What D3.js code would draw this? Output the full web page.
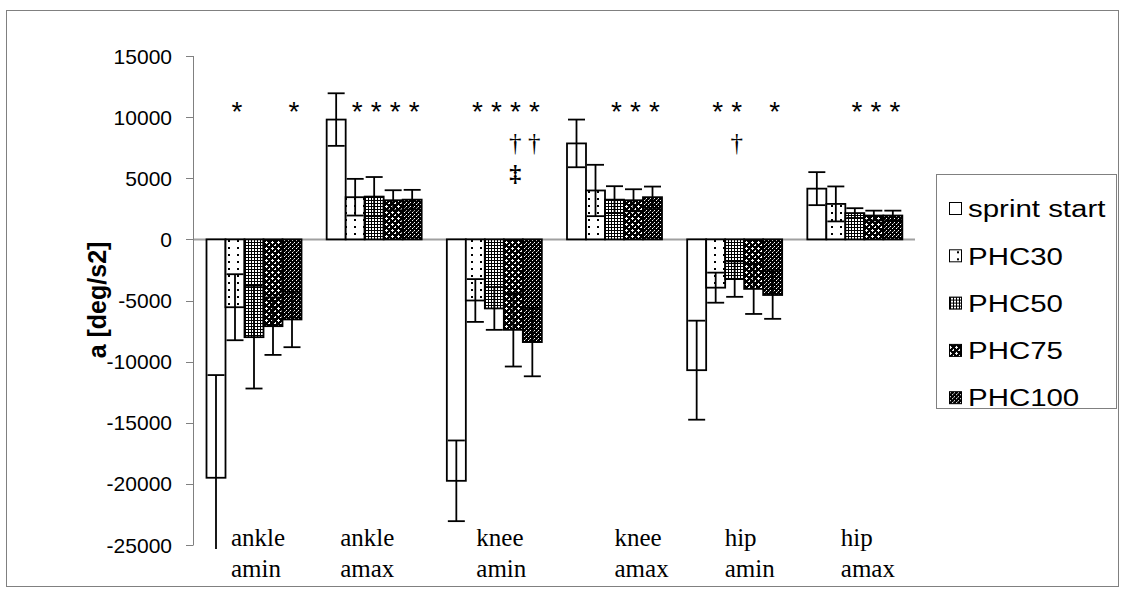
<!DOCTYPE html>
<html>
<head>
<meta charset="utf-8">
<script src="https://cdnjs.cloudflare.com/ajax/libs/d3/7.8.5/d3.min.js"></script>
<style>
body { margin: 0; background: #fff; }
svg { display: block; }
.sans { font-family: "Liberation Sans", Arial, sans-serif; }
.serif { font-family: "Liberation Serif", "Times New Roman", serif; }
</style>
</head>
<body>
<svg id="chart" width="1126" height="593"></svg>
<script>
// categories (two text lines each)
var CAT_KEYS = ["ankle amin", "ankle amax", "knee amin", "knee amax", "hip amin", "hip amax"];
var CAT_LINE1 = ["ankle", "ankle", "knee", "knee", "hip", "hip"];
var CAT_LINE2 = ["amin", "amax", "amin", "amax", "amin", "amax"];

var SERIES = ["sprint start", "PHC30", "PHC50", "PHC75", "PHC100"];

// means, one array per series, in category order
var SPRINT_START = [-19500, 9800, -19750, 7850, -10700, 4150];
var PHC30 = [-5550, 3450, -5000, 4000, -3950, 2900];
var PHC50 = [-8000, 3500, -5650, 3250, -3250, 2150];
var PHC75 = [-7100, 3200, -7400, 3200, -4050, 1950];
var PHC100 = [-6550, 3250, -8400, 3450, -4550, 1950];

// standard deviations
var SD_SPRINT_START = [8400, 2150, 3300, 1950, 4050, 1350];
var SD_PHC30 = [2700, 1500, 1750, 2100, 1230, 1430];
var SD_PHC50 = [4200, 1600, 1750, 1100, 1450, 400];
var SD_PHC75 = [2350, 820, 3000, 900, 2050, 400];
var SD_PHC100 = [2270, 800, 2800, 870, 1950, 400];

var Y_TICKS = [15000, 10000, 5000, 0, -5000, -10000, -15000, -20000, -25000];

// significance marks
var STAR_MARKS = [
    ["ankle amin", "PHC30"], ["ankle amin", "PHC100"],
    ["ankle amax", "PHC30"], ["ankle amax", "PHC50"], ["ankle amax", "PHC75"], ["ankle amax", "PHC100"],
    ["knee amin", "PHC30"], ["knee amin", "PHC50"], ["knee amin", "PHC75"], ["knee amin", "PHC100"],
    ["knee amax", "PHC50"], ["knee amax", "PHC75"], ["knee amax", "PHC100"],
    ["hip amin", "PHC30"], ["hip amin", "PHC50"], ["hip amin", "PHC100"],
    ["hip amax", "PHC50"], ["hip amax", "PHC75"], ["hip amax", "PHC100"]
];
var DAGGER_MARKS = [["knee amin", "PHC75"], ["knee amin", "PHC100"], ["hip amin", "PHC50"]];
var DDAGGER_MARKS = [["knee amin", "PHC75"]];

var MEANS = [SPRINT_START, PHC30, PHC50, PHC75, PHC100];
var SDS = [SD_SPRINT_START, SD_PHC30, SD_PHC50, SD_PHC75, SD_PHC100];

// layout
var PLOT_LEFT = 194, PLOT_RIGHT = 915;
var LABEL_SHIFT = [37, 26, 42, 60, 50, 46];   // left edge of category text inside its band

var svg = d3.select("#chart");

var x0 = d3.scaleBand().domain(CAT_KEYS).range([PLOT_LEFT, PLOT_RIGHT]);
var x1 = d3.scaleBand().domain(SERIES).range([12.5, 107.5]);
var y = d3.scaleLinear().domain([-25000, 15000]).range([545, 56]);

var defs = svg.append("defs");
add_patterns(defs);

defs.append("clipPath").attr("id", "plotclip")
    .append("rect")
    .attr("x", PLOT_LEFT - 2).attr("y", 40)
    .attr("width", PLOT_RIGHT - PLOT_LEFT + 4).attr("height", 509);

// outer frame
svg.append("rect")
    .attr("x", 6.5).attr("y", 10.5)
    .attr("width", 1112).attr("height", 576)
    .attr("fill", "none").attr("stroke", "#808080").attr("stroke-width", 1);

function fill_for(i) {
    if (i == 0) return "#fff";
    return "url(#pat" + i + ")";
}

function add_patterns(defs) {
    var p;
    // PHC30: sparse dots
    p = tile(defs, 1, 9, 7, "#fff");
    p.append("rect").attr("x", 3).attr("y", 2).attr("width", 2).attr("height", 2).attr("fill", "#000");
    // PHC50: fine grid
    p = tile(defs, 2, 3, 3, "#fff");
    p.append("rect").attr("x", 0).attr("y", 2).attr("width", 3).attr("height", 1).attr("fill", "#000");
    p.append("rect").attr("x", 2).attr("y", 0).attr("width", 1).attr("height", 3).attr("fill", "#000");
    // PHC75: white crosses on black
    p = tile(defs, 3, 6, 6, "#000");
    p.append("rect").attr("x", 2).attr("y", 1).attr("width", 1).attr("height", 3).attr("fill", "#fff");
    p.append("rect").attr("x", 1).attr("y", 2).attr("width", 3).attr("height", 1).attr("fill", "#fff");
    p.append("rect").attr("x", 5).attr("y", 4).attr("width", 1).attr("height", 3).attr("fill", "#fff");
    p.append("rect").attr("x", 4).attr("y", 5).attr("width", 3).attr("height", 1).attr("fill", "#fff");
    // PHC100: dark dense dots
    p = tile(defs, 4, 4, 4, "#000");
    p.append("rect").attr("x", 0).attr("y", 0).attr("width", 1).attr("height", 1).attr("fill", "#fff");
    p.append("rect").attr("x", 2).attr("y", 2).attr("width", 1).attr("height", 1).attr("fill", "#fff");
    p.append("rect").attr("x", 1).attr("y", 3).attr("width", 1).attr("height", 1).attr("fill", "#888");
}

function tile(defs, i, w, h, bg) {
    var p = defs.append("pattern")
        .attr("id", "pat" + i)
        .attr("patternUnits", "userSpaceOnUse")
        .attr("width", w).attr("height", h);
    p.append("rect").attr("width", w).attr("height", h).attr("fill", bg);
    return p;
}

// y axis
var yAxis = svg.append("g");
yAxis.append("line")
    .attr("x1", 193.5).attr("x2", 193.5)
    .attr("y1", y(15000)).attr("y2", y(-25000))
    .attr("stroke", "#808080");
yAxis.selectAll(".tk").data(Y_TICKS).enter()
    .append("line")
    .attr("x1", 186).attr("x2", 193.5)
    .attr("y1", function(d) { return Math.round(y(d)) + 0.5; })
    .attr("y2", function(d) { return Math.round(y(d)) + 0.5; })
    .attr("stroke", "#808080");
yAxis.selectAll("text").data(Y_TICKS).enter()
    .append("text")
    .attr("class", "sans")
    .attr("x", 172)
    .attr("y", function(d) { return y(d); })
    .attr("dy", "0.36em")
    .attr("text-anchor", "end")
    .attr("font-size", 21)
    .text(function(d) { return d; });

svg.append("text")
    .attr("class", "sans")
    .attr("transform", "translate(106,300) rotate(-90)")
    .attr("text-anchor", "middle")
    .attr("font-size", 25)
    .attr("font-weight", "bold")
    .text("a [deg/s2]");

// zero line
svg.append("line")
    .attr("x1", PLOT_LEFT).attr("x2", PLOT_RIGHT)
    .attr("y1", y(0)).attr("y2", y(0))
    .attr("stroke", "#a0a0a0").attr("stroke-width", 2);

// bars
var rows = [];
for (var s = 0; s < SERIES.length; s++) {
    for (var c = 0; c < CAT_KEYS.length; c++) {
        rows.push({ s: s, cat: CAT_KEYS[c], mean: MEANS[s][c], sd: SDS[s][c] });
    }
}

svg.append("g").selectAll("rect").data(rows).enter()
    .append("rect")
    .attr("x", function(d) { return x0(d.cat) + x1(SERIES[d.s]); })
    .attr("width", x1.bandwidth())
    .attr("y", function(d) { return Math.min(y(d.mean), y(0)); })
    .attr("height", function(d) { return Math.abs(y(d.mean) - y(0)); })
    .attr("fill", function(d) { return fill_for(d.s); })
    .attr("stroke", "#000")
    .attr("stroke-width", 1.8);

// error bars
var eb = svg.append("g").attr("clip-path", "url(#plotclip)");
var ebg = eb.selectAll("g").data(rows).enter()
    .append("g")
    .attr("transform", function(d) {
        return "translate(" + (x0(d.cat) + x1(SERIES[d.s]) + x1.bandwidth() / 2) + ",0)";
    });
ebg.append("line")
    .attr("y1", function(d) { return y(d.mean - d.sd); })
    .attr("y2", function(d) { return y(d.mean + d.sd); })
    .attr("stroke", "#000").attr("stroke-width", 1.8);
ebg.selectAll(".cap")
    .data(function(d) { return [d.mean - d.sd, d.mean + d.sd]; })
    .enter()
    .append("line")
    .attr("x1", -8.5).attr("x2", 8.5)
    .attr("y1", function(v) { return y(v); })
    .attr("y2", function(v) { return y(v); })
    .attr("stroke", "#000").attr("stroke-width", 1.8);

// marks above the bars
function mark_x(m) {
    return x0(m[0]) + x1(m[1]) + x1.bandwidth() / 2 + 2;
}

svg.append("g").selectAll("text").data(STAR_MARKS).enter()
    .append("text")
    .attr("class", "sans")
    .attr("x", mark_x)
    .attr("y", 121)
    .attr("text-anchor", "middle")
    .attr("font-size", 28)
    .text("*");

svg.append("g").selectAll("text").data(DAGGER_MARKS).enter()
    .append("text")
    .attr("class", "serif")
    .attr("x", mark_x)
    .attr("y", 151)
    .attr("text-anchor", "middle")
    .attr("font-size", 25)
    .attr("fill", "#000")
    .text("\u2020");

svg.append("g").selectAll("text").data(DDAGGER_MARKS).enter()
    .append("text")
    .attr("class", "serif")
    .attr("x", mark_x)
    .attr("y", 181)
    .attr("text-anchor", "middle")
    .attr("font-size", 24)
    .attr("font-weight", "bold")
    .text("\u2021");

// category labels
var cl = svg.append("g").selectAll("text").data(CAT_KEYS).enter()
    .append("text")
    .attr("class", "serif")
    .attr("font-size", 25)
    .attr("x", function(d, i) { return x0(d) + LABEL_SHIFT[i]; })
    .attr("y", 546);
cl.append("tspan")
    .text(function(d, i) { return CAT_LINE1[i]; });
cl.append("tspan")
    .attr("x", function(d, i) { return x0(d) + LABEL_SHIFT[i]; })
    .attr("dy", 31)
    .text(function(d, i) { return CAT_LINE2[i]; });

// legend
var lg = svg.append("g");
lg.append("rect")
    .attr("x", 936.5).attr("y", 174.5)
    .attr("width", 180).attr("height", 234)
    .attr("fill", "#fff").attr("stroke", "#808080");
var items = lg.selectAll("g").data(SERIES).enter()
    .append("g")
    .attr("transform", function(d, i) { return "translate(0," + (209 + i * 47.3) + ")"; });
items.append("rect")
    .attr("x", 949.5).attr("y", -6.5)
    .attr("width", 12).attr("height", 12)
    .attr("fill", function(d, i) { return fill_for(i); })
    .attr("stroke", "#000");
// legend text is drawn a little wider than normal, as in the source
items.append("text")
    .attr("class", "sans")
    .attr("transform", "translate(968,0) scale(1.28,1)")
    .attr("dy", "0.36em")
    .attr("font-size", 23)
    .text(function(d) { return d; });
</script>
</body>
</html>
